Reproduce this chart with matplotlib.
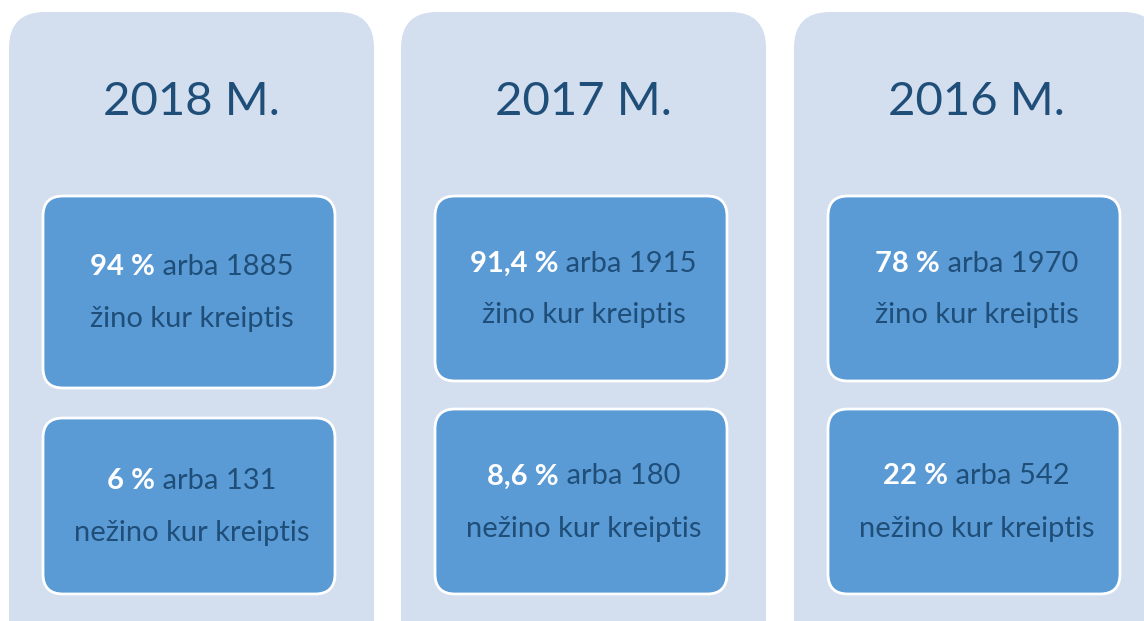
import matplotlib
matplotlib.use("Agg")
import matplotlib.pyplot as plt
from matplotlib.patches import FancyBboxPatch

years = ["2018 M.", "2017 M.", "2016 M."]
pct_known = ["94 %", "91,4 %", "78 %"]
count_known = [1885, 1915, 1970]
pct_unknown = ["6 %", "8,6 %", "22 %"]
count_unknown = [131, 180, 542]
label_known = "žino kur kreiptis"
label_unknown = "nežino kur kreiptis"

W, H = 1144, 621
FONT = "Lato"
PANEL_C = "#D3DEEF"
BOX_C = "#5B9BD5"
TXT_C = "#1F4E79"

fig = plt.figure(figsize=(W / 100, H / 100), dpi=100)
ax = fig.add_axes([0, 0, 1, 1])
ax.set_xlim(0, W)
ax.set_ylim(H, 0)
ax.axis("off")

panel_x = [9, 401, 794]
panel_w = 365
top_boxes = [(196, 388), (196, 381), (196, 381)]
bot_boxes = [(418, 594), (409, 594), (409, 594)]

renderer = fig.canvas.get_renderer()


def mixed_line(cx, y, bold, regular, size):
    t1 = ax.text(0, y, bold, fontsize=size, fontweight="bold", color="white",
                 family=FONT, ha="left", va="center")
    t2 = ax.text(0, y, " " + regular, fontsize=size, color=TXT_C,
                 family=FONT, ha="left", va="center")
    w1 = t1.get_window_extent(renderer).width
    w2 = t2.get_window_extent(renderer).width
    x0 = cx - (w1 + w2) / 2
    t1.set_x(x0)
    t2.set_x(x0 + w1)


for i in range(3):
    px = panel_x[i]
    ax.add_patch(FancyBboxPatch((px, 12), panel_w, 660, boxstyle="round,pad=0,rounding_size=36",
                                fc=PANEL_C, ec="none"))
    cx = px + panel_w / 2
    ax.text(cx, 102, years[i], fontsize=34, color=TXT_C, family=FONT, ha="center", va="center")

    bx = px + 34
    bw = 292
    for (y0, y1), pct, cnt, lab in [(top_boxes[i], pct_known[i], count_known[i], label_known),
                                    (bot_boxes[i], pct_unknown[i], count_unknown[i], label_unknown)]:
        ax.add_patch(FancyBboxPatch((bx, y0), bw, y1 - y0, boxstyle="round,pad=0,rounding_size=20",
                                    fc=BOX_C, ec="white", lw=2))
        cy = (y0 + y1) / 2
        mixed_line(cx, cy - 25, pct, f"arba {cnt}", 21)
        ax.text(cx, cy + 27, lab, fontsize=21, color=TXT_C, family=FONT, ha="center", va="center")

fig.savefig("out.png", dpi=100, facecolor="white")
